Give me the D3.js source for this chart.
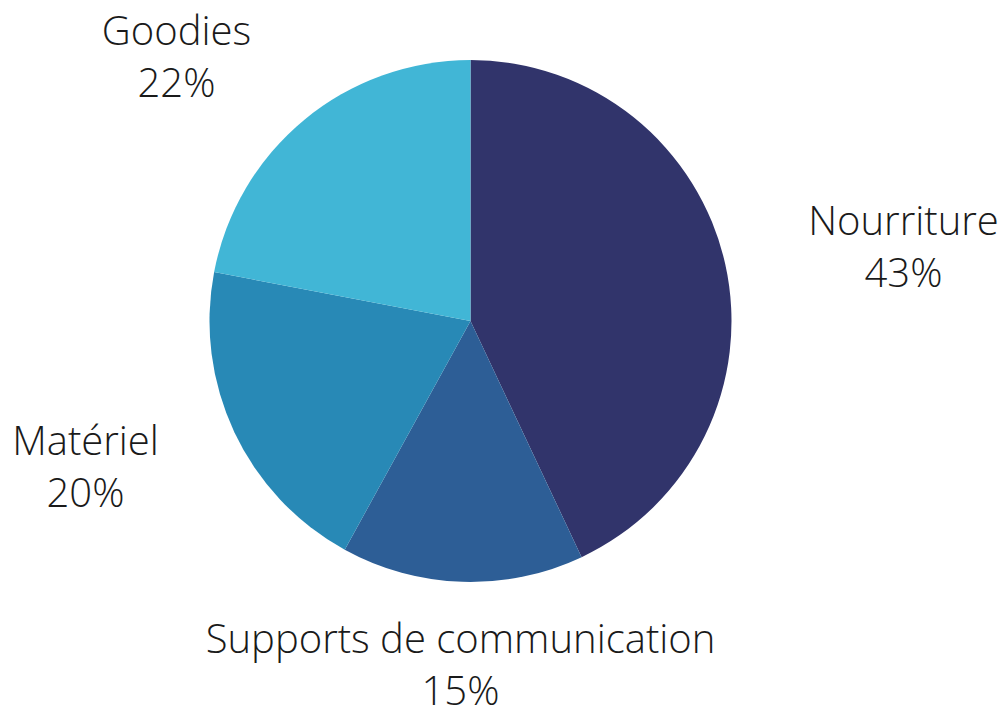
<!DOCTYPE html>
<html>
<head>
<meta charset="utf-8">
<script src="https://cdn.jsdelivr.net/npm/d3@7"></script>
<style>
  html, body { margin: 0; padding: 0; background: #fff; }
  text { font-family: "Open Sans", sans-serif; font-weight: 300; fill: #1a1a1a; }
</style>
</head>
<body>
<svg id="chart" width="1006" height="713"></svg>
<script>
// data
const categories = ["Nourriture", "Supports de communication", "Matériel", "Goodies"];
const shares = [43, 15, 20, 22];
const colors = ["#31346b", "#2d5e96", "#2889b6", "#41b6d6"];

// label layout, offset of label centre from pie centre
const labelOffsets = [[433, -60], [-10, 358], [-385, 160], [-294, -250]];

const width = 1006, height = 713;
const cx = 470.5, cy = 321, radius = 261;
const fontSize = 40, lineGap = 52;

const svg = d3.select("#chart");
const g = svg.append("g").attr("transform", "translate(" + cx + "," + cy + ")");

const pie = d3.pie().sort(null).value(d => d.value);
const arc = d3.arc().innerRadius(0).outerRadius(radius);

const data = categories.map((c, i) => ({ name: c, value: shares[i], color: colors[i], off: labelOffsets[i] }));
const arcs = pie(data);

g.selectAll("path")
    .data(arcs)
    .enter().append("path")
    .attr("d", arc)
    .attr("fill", d => d.data.color);

const total = d3.sum(shares);
const labels = g.selectAll("text.lbl")
    .data(arcs)
    .enter().append("text")
    .attr("class", "lbl")
    .attr("text-anchor", "middle")
    .attr("font-size", fontSize)
    .attr("transform", d => "translate(" + d.data.off[0] + "," + d.data.off[1] + ")");

labels.append("tspan")
    .attr("x", 0)
    .attr("y", -lineGap / 2)
    .text(d => d.data.name);
labels.append("tspan")
    .attr("x", 0)
    .attr("y", lineGap / 2)
    .text(d => Math.round(d.data.value / total * 100) + "%");
</script>
</body>
</html>
